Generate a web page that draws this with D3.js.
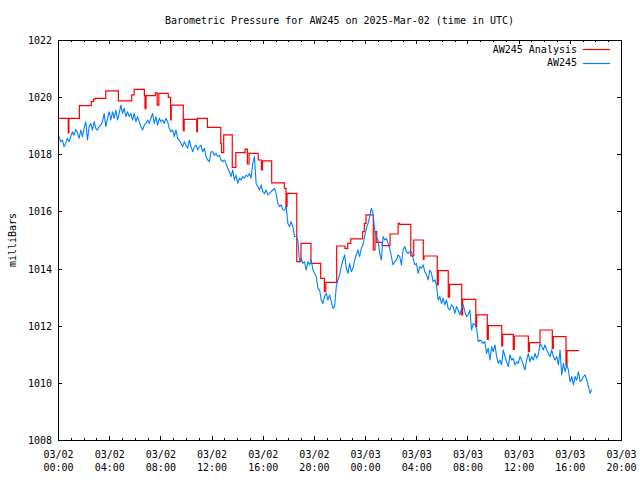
<!DOCTYPE html>
<html>
<head>
<meta charset="utf-8">
<script src="https://cdn.jsdelivr.net/npm/d3@7"></script>
<style>
  html, body { margin: 0; padding: 0; background: #fff; }
  svg { display: block; }
  text { font-family: "DejaVu Sans Mono", "Liberation Mono", monospace; font-size: 10px; fill: #000; }
</style>
</head>
<body>
<svg id="chart" width="640" height="480"></svg>
<script>
// ---------------- DATA ----------------
const chartTitle = "Barometric Pressure for AW245 on 2025-Mar-02 (time in UTC)";
const yAxisTitle = "milliBars";
const seriesNames = ["AW245 Analysis", "AW245"];
const xDomain = ["2025-03-02T00:00:00Z", "2025-03-03T20:00:00Z"];
const yDomain = [1008, 1022];
const yTickValues = [1008, 1010, 1012, 1014, 1016, 1018, 1020, 1022];

// Analysis (red) step series: hours after 2025-03-02 00:00 UTC, value
const analysisStart = "2025-03-02T00:00:00Z";
const analysisHours = [0.00,0.80,0.85,1.67,2.60,2.78,2.90,3.73,4.72,5.76,5.95,6.75,6.80,6.88,7.61,7.75,7.88,8.62,8.80,8.85,9.79,9.86,10.84,10.90,11.68,12.72,12.78,12.95,13.62,13.90,14.62,14.80,14.93,15.65,15.90,15.98,16.70,17.69,17.82,17.90,18.66,18.99,19.77,20.53,20.82,20.93,21.78,22.43,22.64,22.88,23.81,23.94,24.07,24.64,24.78,24.91,25.34,25.95,26.58,26.70,27.57,27.80,28.55,28.60,29.64,29.72,30.50,30.60,31.55,31.62,32.65,32.72,33.55,33.63,34.68,34.75,35.58,35.66,36.76,36.84,37.67,38.63,38.71,39.70,39.78,40.72];
const analysisValues = [1019.26,1018.75,1019.26,1019.70,1019.85,1019.93,1019.96,1020.22,1019.87,1020.08,1020.27,1020.05,1019.60,1020.05,1020.15,1019.72,1020.13,1019.99,1019.20,1019.72,1018.83,1019.22,1018.79,1019.26,1018.94,1018.38,1018.06,1018.68,1017.54,1018.06,1018.18,1017.66,1018.03,1017.80,1017.45,1017.77,1017.00,1016.81,1016.17,1016.63,1014.24,1014.88,1014.18,1013.66,1013.19,1013.52,1014.79,1014.71,1014.88,1015.04,1015.29,1015.58,1015.88,1014.65,1015.29,1014.92,1014.80,1015.21,1015.58,1015.55,1014.44,1015.00,1014.32,1014.44,1013.43,1013.93,1013.00,1013.45,1012.38,1012.92,1011.97,1012.38,1011.52,1012.00,1011.29,1011.70,1011.17,1011.64,1011.09,1011.41,1011.85,1011.21,1011.62,1010.62,1011.13,1011.13];

// Observations (blue): evenly spaced readings between these times
const obsStart = "2025-03-02T00:05:00Z";
const obsEnd = "2025-03-03T17:43:00Z";
const obsValues = [
1018.62,1018.44,1018.50,1018.27,1018.38,1018.56,1018.44,1018.62,1018.79,1018.67,
1018.87,1018.76,1018.56,1018.85,1018.62,1018.91,1019.14,1018.50,1018.97,1019.08,
1018.85,1019.14,1018.91,1018.85,1018.97,1019.02,1019.14,1019.43,1018.97,1019.26,
1019.49,1019.20,1019.49,1019.26,1019.55,1019.20,1019.43,1019.72,1019.43,1019.61,
1019.32,1019.49,1019.32,1019.43,1019.20,1019.43,1019.14,1019.32,1019.14,1018.97,
1018.85,1019.02,1019.08,1019.20,1019.08,1019.26,1019.43,1019.08,1019.32,1019.02,
1019.26,1019.14,1019.20,1019.08,1019.26,1019.14,1018.91,1018.79,1018.85,1018.62,
1018.85,1018.56,1018.50,1018.38,1018.27,1018.44,1018.32,1018.21,1018.50,1018.27,
1018.09,1018.27,1018.32,1018.15,1018.27,1018.32,1018.09,1018.21,1017.92,1017.80,
1017.74,1018.09,1018.09,1017.97,1018.03,1017.92,1017.97,1017.80,1017.74,1017.80,
1017.68,1017.51,1017.39,1017.22,1017.45,1017.10,1017.27,1016.98,1017.16,1017.10,
1017.22,1017.16,1017.27,1017.22,1017.33,1017.16,1017.68,1017.92,
1016.98,1016.87,1016.75,1016.93,1016.69,1016.63,1016.75,1016.58,1016.63,1016.69,
1016.75,1016.81,1016.63,1016.28,1016.17,1016.23,1016.05,1016.05,1016.17,1015.58,
1015.47,1015.64,1015.47,1015.12,1015.12,1015.00,1014.24,1014.36,1014.18,1014.24,
1013.95,1014.24,1014.13,1014.30,1013.95,1013.83,1013.72,1013.31,1013.25,1012.90,
1012.78,1013.02,1013.13,1012.90,1013.08,1012.84,1012.61,1012.67,1013.37,1013.60,
1013.78,1014.07,1014.30,1014.48,1014.01,1013.83,1014.18,1013.89,1014.01,1014.30,
1014.48,1014.65,1014.42,1014.71,1014.83,1015.12,1015.41,1015.58,1015.82,1016.11,
1015.93,1015.35,1015.12,1015.00,1014.53,
1014.30,1015.12,1015.00,1015.06,1014.88,1014.71,1014.42,1014.13,1014.24,1014.30,
1014.48,1014.42,1014.13,1014.65,1014.77,1014.59,1014.53,1014.59,1014.59,1014.36,
1014.13,1014.18,1013.83,1014.07,1014.01,1014.13,1013.89,1013.78,1013.60,1013.95,
1013.83,1013.54,1013.60,1013.43,1012.90,1013.02,1012.78,1012.96,1012.73,1012.90,
1012.61,1012.55,1012.73,1012.67,1012.43,1012.67,1012.55,1012.38,1012.61,1012.73,
1012.49,1012.32,1012.38,1012.55,1011.85,1012.08,1012.03,1011.91,1011.44,1011.50,
1011.44,1011.38,1011.44,1011.03,1011.21,1010.80,1011.27,1011.09,1011.33,1010.92,
1010.68,1010.80,1010.63,1011.15,1010.92,1010.74,1010.57,1010.98,1010.80,1010.86,
1010.63,1010.74,1010.68,1010.92,1010.80,1010.63,1010.45,1010.80,1011.03,1010.74,
1010.92,1010.80,1011.03,1010.86,1010.98,1011.38,1011.27,1011.15,1011.33,1011.15,
1011.03,1010.92,1011.15,1010.92,1010.80,1010.92,1010.63,1011.15,1010.28,1010.68,
1010.39,1010.63,1010.45,1010.04,1010.22,1009.93,1010.22,1010.10,1010.39,1010.04,
1010.10,1010.22,1010.28,1010.10,1009.87,1009.63,1009.77
];
const seriesColors = ["#ff0000", "#0080ff"];

// ---------------- CHART ----------------
const svg = d3.select("#chart");
const L = 58, R = 621, T = 40, B = 440;

const x = d3.scaleUtc().domain(xDomain.map(s => new Date(s))).range([L, R]);
const y = d3.scaleLinear().domain(yDomain).range([B, T]);

const t0a = new Date(analysisStart).getTime();
const analysis = analysisHours.map((h, i) => ({ t: new Date(t0a + h * 3600e3), v: analysisValues[i] }));
const os = new Date(obsStart).getTime(), oe = new Date(obsEnd).getTime();
const obs = obsValues.map((v, i) => ({ t: new Date(os + (oe - os) * i / (obsValues.length - 1)), v }));

const plot = svg.append("g");
plot.append("path")
  .datum(analysis)
  .attr("fill", "none")
  .attr("stroke", seriesColors[0])
  .attr("stroke-width", 1.2)
  .attr("d", d3.line().curve(d3.curveStepAfter).x(d => x(d.t)).y(d => y(d.v)));
plot.append("path")
  .datum(obs)
  .attr("fill", "none")
  .attr("stroke", seriesColors[1])
  .attr("stroke-width", 1.1)
  .attr("stroke-linejoin", "round")
  .attr("d", d3.line().x(d => x(d.t)).y(d => y(d.v)));

// axes
function styleAxis(g) {
  g.select(".domain").remove();
  g.selectAll(".tick line").attr("stroke", "#000").attr("shape-rendering", "crispEdges");
  g.selectAll(".tick text").remove();
}
const hours1 = d3.utcHour.every(1), hours4 = d3.utcHour.every(4);
// minor x ticks
svg.append("g").attr("transform", `translate(0,${B})`)
  .call(d3.axisBottom(x).ticks(hours1).tickSize(-2).tickFormat("")).call(styleAxis);
svg.append("g").attr("transform", `translate(0,${T})`)
  .call(d3.axisTop(x).ticks(hours1).tickSize(-2).tickFormat("")).call(styleAxis);
// major x ticks
const xb = svg.append("g").attr("transform", `translate(0,${B})`)
  .call(d3.axisBottom(x).ticks(hours4).tickSize(-4)).call(styleAxis);
svg.append("g").attr("transform", `translate(0,${T})`)
  .call(d3.axisTop(x).ticks(hours4).tickSize(-4).tickFormat("")).call(styleAxis);
const fmtD = d3.utcFormat("%m/%d"), fmtH = d3.utcFormat("%H:%M");
xb.selectAll(".tick").each(function(d) {
  const g = d3.select(this);
  g.append("text").attr("y", 14).attr("text-anchor", "middle").attr("dominant-baseline", "central").text(fmtD(d));
  g.append("text").attr("y", 27).attr("text-anchor", "middle").attr("dominant-baseline", "central").text(fmtH(d));
});
// y ticks
const yl = svg.append("g").attr("transform", `translate(${L},0)`)
  .call(d3.axisLeft(y).tickValues(yTickValues).tickSize(-4)).call(styleAxis);
svg.append("g").attr("transform", `translate(${R},0)`)
  .call(d3.axisRight(y).tickValues(yTickValues).tickSize(-4).tickFormat("")).call(styleAxis);
yl.selectAll(".tick").each(function(d) {
  d3.select(this).append("text").attr("x", -6).attr("text-anchor", "end")
    .attr("dominant-baseline", "central").text(d3.format("d")(d));
});

// frame
svg.append("rect").attr("x", L + 0.5).attr("y", T + 0.5).attr("width", R - L).attr("height", B - T)
  .attr("fill", "none").attr("stroke", "#000").attr("stroke-width", 1).attr("shape-rendering", "crispEdges");

// title
svg.append("text").attr("x", (L + R) / 2).attr("y", 20).attr("text-anchor", "middle")
  .attr("dominant-baseline", "central").text(chartTitle);
svg.append("text").attr("transform", `translate(12,${(T + B) / 2}) rotate(-90)`)
  .attr("text-anchor", "middle").attr("dominant-baseline", "central").text(yAxisTitle);

// legend
seriesNames.forEach((name, i) => {
  const ly = 49 + i * 13.5;
  svg.append("text").attr("x", 577).attr("y", ly).attr("text-anchor", "end")
    .attr("dominant-baseline", "central").text(name);
  svg.append("line").attr("x1", 583).attr("x2", 610).attr("y1", Math.round(ly) + 0.5).attr("y2", Math.round(ly) + 0.5)
    .attr("stroke", seriesColors[i]).attr("stroke-width", 1.2);
});
</script>
</body>
</html>
